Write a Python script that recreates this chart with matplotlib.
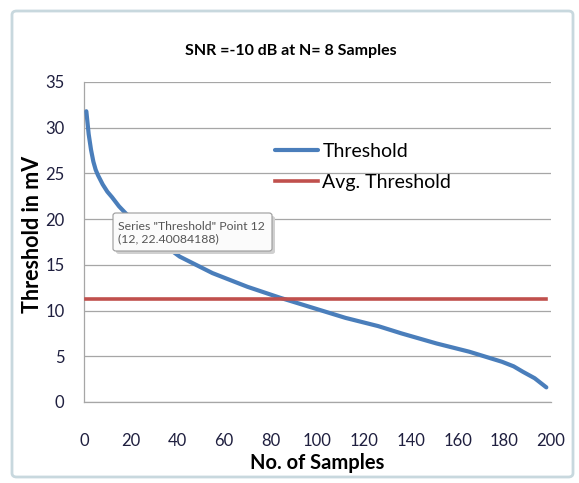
import matplotlib.pyplot as plt
from matplotlib.patches import FancyBboxPatch

# values
samples = [1, 2, 3, 4, 5, 6, 8, 10, 12, 15, 18, 25, 33, 41, 55, 70, 84,
           98, 112, 126, 136, 151, 165, 179, 184, 188, 193, 198]
threshold = [31.8, 29.3, 27.6, 26.3, 25.4, 24.8, 23.8, 23.0, 22.4, 21.4,
             20.6, 19.1, 17.4, 15.9, 14.1, 12.6, 11.4, 10.3, 9.2, 8.3, 7.5,
             6.4, 5.5, 4.4, 3.9, 3.3, 2.6, 1.6]
avg_threshold = 11.25

x_ticks = list(range(0, 201, 20))
y_ticks = list(range(0, 36, 5))

title = "SNR =-10 dB at N= 8 Samples"
tip_text = 'Series "Threshold" Point 12\n(12, 22.40084188)'

plt.rcParams['font.family'] = ['Lato', 'DejaVu Sans']

W, H = 579, 483
fig = plt.figure(figsize=(W / 100, H / 100), dpi=100)

# excel chart frame
frame = FancyBboxPatch((12 / W, 6 / H), 561 / W, 466 / H,
                       boxstyle="round,pad=0,rounding_size=0.008",
                       transform=fig.transFigure, facecolor='white',
                       edgecolor='#c8d8de', linewidth=2.0, zorder=-5)
fig.patches.append(frame)

ax = fig.add_axes([84 / W, 1 - 402 / H, 467 / W, 320 / H])
ax.set_facecolor('none')

ax.plot(samples, threshold, color='#4a7ebb', linewidth=3.0,
        solid_capstyle='round', solid_joinstyle='round',
        label='Threshold', zorder=3)
ax.plot([samples[0], samples[-1]], [avg_threshold, avg_threshold],
        color='#c0504d', linewidth=2.6, label='Avg. Threshold', zorder=3)

ax.set_xlim(0, 200)
ax.set_ylim(0, 35)
ax.set_xticks(x_ticks)
ax.set_yticks(y_ticks)
ax.tick_params(length=0, labelsize=12, labelcolor='#1f1f3f')
ax.tick_params(axis='x', pad=22)
ax.tick_params(axis='y', pad=14)
ax.grid(axis='y', color='#a6a6a6', linewidth=0.9)
ax.set_axisbelow(True)
for s in ['top', 'right']:
    ax.spines[s].set_visible(False)
for s in ['left', 'bottom']:
    ax.spines[s].set_color('#a6a6a6')
    ax.spines[s].set_linewidth(0.9)

ax.set_xlabel('No. of Samples', fontsize=14.5, fontweight='bold', labelpad=3)
ax.set_ylabel('Threshold in mV', fontsize=15.5, fontweight='bold')
ax.yaxis.set_label_coords(-0.088, 0.525)

fig.text(291 / W, 1 - 51 / H, title, ha='center', va='center',
         fontsize=11.5, fontweight='bold')

fig.legend(loc='upper left', bbox_to_anchor=(265 / W, 1 - 133 / H),
           frameon=False, fontsize=14, borderpad=0, handlelength=2.2,
           handletextpad=0.25, labelspacing=0.72)

# hover tooltip from the screenshot
shadow = FancyBboxPatch((116 / W, 1 - 254 / H), 159 / W, 38 / H,
                        boxstyle="round,pad=0,rounding_size=0.005",
                        transform=fig.transFigure, facecolor='#d0d0d0',
                        edgecolor='none', zorder=4)
box = FancyBboxPatch((113 / W, 1 - 251 / H), 159 / W, 38 / H,
                     boxstyle="round,pad=0,rounding_size=0.005",
                     transform=fig.transFigure, facecolor='#fbfbfb',
                     edgecolor='#9a9a9a', linewidth=0.8, zorder=5)
fig.patches.extend([shadow, box])
fig.text(118 / W, 1 - 221 / H, tip_text, ha='left', va='top',
         fontsize=8.8, color='#555555', linespacing=1.1, zorder=6)

fig.savefig('out.png', dpi=100)
